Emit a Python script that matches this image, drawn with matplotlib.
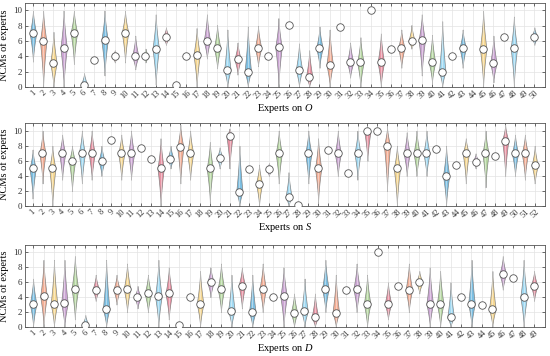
import matplotlib
matplotlib.use("Agg")
import matplotlib.pyplot as plt
import numpy as np

plt.rcParams["font.family"] = ["Liberation Serif", "DejaVu Serif"]
plt.rcParams["mathtext.fontset"] = "custom"
plt.rcParams["mathtext.it"] = "Liberation Serif:italic"
plt.rcParams["mathtext.rm"] = "Liberation Serif"

# ---- data (median NCM, lower end, upper end) per expert; None = no data ----
o_med = [7, 6, 3.1, 5.1, 7.1, 0.3, 3.5, 6.1, 4, 7.1, 4, 4, 5, 6.5, 0.25, 4,
         4.2, 6, 5.1, 2.2, 3.6, 2, 5.1, 4, 5.2, 8.1, 2.2, 1.3, 5.1, 2.9,
         7.8, 3.2, 3.2, 10, 3.2, 5, 5.1, 6, 6.1, 3.2, 2, 4, 5.1, None,
         5, 3.1, 6.5, 5.1, None, 6.5]
o_lo = [3.3, 0, 0, 0, 3, 0, 3.5, 1.5, 3.2, 3.2, 2.3, 3.2, 0.3, 5.5, 0.25, 4,
        0, 3.7, 2.4, 0, 1.6, 0, 2.7, 4, 0, 8.1, 0, 0, 2.5, 0,
        7.8, 1.2, 0, 10, 0, 5, 2.5, 5, 1.5, 0.5, 0, 4, 2.5, None,
        0, 0.6, 6.5, 0, None, 5.5]
o_hi = [10, 10, 7.2, 10, 10, 1.8, 3.5, 10, 4.8, 10, 6.7, 5, 9.5, 7.8, 0.25, 4,
        7.7, 9.5, 8.1, 7.5, 5.8, 7.9, 8, 4, 9, 8.1, 5.7, 4.8, 7.9, 7.5,
        7.8, 5.8, 6.5, 10, 7, 5, 7.5, 8.1, 9.5, 6.8, 8.6, 4, 7.5, None,
        10, 6.7, 6.5, 9.2, None, 7.8]

s_med = [5, 7, 5, 7, 6, 7, 7, 6, 8.8, 7, 7, 7.7, 6.3, 5, 6.3, 7.8,
         7, None, 5, 6.4, 9.3, 1.9, 4.9, 3, 4.9, 7, 1.2, 0.2, 7, 5,
         7.5, 7, 4.4, 7, 9.9, 9.9, 8, 5, 7, 7, 7, 7.6, 4.05, 5.4,
         7, 5.9, 7, 6.65, 8.7, 7, 7, 5.4]
s_lo = [1, 3, 0, 3.5, 2, 3, 3.5, 4, 8.8, 3.5, 3.5, 7.7, 6.3, 0, 5, 3,
        3.5, None, 0.5, 5, 5, 0, 4.9, 0, 4, 3, 0, 0.2, 3, 0.5,
        7.5, 4, 4.4, 3.5, 6, 9.9, 2, 0, 4, 4, 4, 7.6, 0, 5.4,
        3, 5, 2.5, 6.65, 4, 4, 3.5, 3]
s_hi = [7.5, 10, 8, 9.5, 8, 10, 10, 8, 8.8, 9.5, 10, 7.7, 6.3, 9, 8, 10.8,
        10, None, 8.5, 7.8, 10.3, 8, 4.9, 5.5, 5.7, 10, 4.5, 0.2, 10, 9,
        7.5, 10, 4.4, 10, 10.5, 9.9, 10.5, 8, 9.8, 10, 10, 7.6, 8, 5.4,
        9, 7, 10, 6.65, 10.8, 9.5, 9.5, 8]

d_med = [3.1, 4.1, 3.1, 3.15, 5.1, 0.3, 5, 2.4, 5, 5.1, 4, 4.5, 4.1, 4.5, 0.2, 4,
         3.1, 6, 5.1, 2.2, 5.55, 2, 5.1, 4, 4.1, 1.9, 2.1, 1.3, 5.1, 1.9,
         5, 5.1, 3.1, 10, 3.1, 5.5, 5, 6, 3.1, 3.1, 1.3, 4, 3.1, 3,
         2.4, 7.1, 6.5, 4, 5.55]
d_lo = [0, 0, 0, 0, 1, 0, 3.5, 0, 3, 2, 2.5, 2, 0, 1, 0.2, 4,
        0, 4, 2, 0, 2.5, 0, 2, 4, 0, 0, 0, 0, 2, 0,
        5, 2, 0, 10, 1, 5.5, 2, 4.5, 0, 0, 0, 4, 0, 3,
        0, 5, 6.5, 0, 3.5]
d_hi = [6.5, 9, 9, 9, 9.5, 1.6, 7, 9, 7, 8.5, 5.5, 7, 9, 8, 0.2, 4,
        7.5, 8, 8.5, 7, 8, 7, 8.5, 4, 8, 4.5, 6.5, 4.5, 9, 7,
        5, 8.5, 7, 10, 6, 5.5, 8.5, 7.5, 8, 7.5, 6, 4, 9, 3,
        7.5, 9.5, 6.5, 9, 7.5]

panels = [
    (o_med, o_lo, o_hi, "Experts on $O$"),
    (s_med, s_lo, s_hi, "Experts on $S$"),
    (d_med, d_lo, d_hi, "Experts on $D$"),
]

palette = ["#6FB8DF", "#F2A68B", "#F6D487", "#C79DD0", "#AFD499", "#98D6F2", "#E6879A"]
edge_col = "#7a7a7a"
half_w = 0.32

# axes rectangles (left, bottom, width, height) in figure fraction
rects = [
    (0.045, 0.756, 0.946, 0.236),
    (0.045, 0.421, 0.946, 0.233),
    (0.045, 0.0815, 0.946, 0.2305),
]


def draw_violin(ax, x, med, lo, hi, color):
    ys = np.linspace(lo, hi, 200)
    w = np.zeros_like(ys)
    up = ys >= med
    if hi > med:
        t = (ys[up] - med) / (hi - med)
        w[up] = half_w * (1 - t) ** 1.5
    else:
        w[up] = half_w
    dn = ~up
    if med > lo:
        t = (med - ys[dn]) / (med - lo)
        w[dn] = half_w * (1 - t) ** 1.5
    ax.fill_betweenx(ys, x - w, x + w, facecolor=color, alpha=0.9,
                     edgecolor=edge_col, linewidth=0.5, zorder=2)
    ax.plot([x, x], [lo, hi], color="white", lw=0.5, alpha=0.6, zorder=3)


fig = plt.figure(figsize=(5.5, 3.56), dpi=100)

for (med, lo, hi, xlab), rect in zip(panels, rects):
    ax = fig.add_axes(rect)
    n = len(med)
    xs = np.arange(1, n + 1)
    for i, x in enumerate(xs):
        if med[i] is None:
            continue
        col = palette[i % len(palette)]
        if hi[i] > lo[i]:
            draw_violin(ax, x, med[i], lo[i], hi[i], col)
        ax.plot(x, med[i], "o", ms=5.4, mfc="white", mec="#555555", mew=0.6, zorder=4)

    ax.set_xlim(0.2, n + 1.05)
    ax.set_ylim(0, 11)
    ax.set_xticks(xs)
    ax.set_xticklabels([str(v) for v in xs], rotation=45, fontsize=6)
    ax.set_yticks([0, 2, 4, 6, 8, 10])
    ax.tick_params(axis="y", labelsize=6.5, pad=2)
    ax.tick_params(axis="x", pad=1.5)
    ax.tick_params(direction="in", length=2.5, width=0.5, colors="#333333",
                   top=True, right=True)
    ax.grid(True, color="#e3e3e3", linewidth=0.5, zorder=0)
    ax.set_axisbelow(True)
    for sp in ax.spines.values():
        sp.set_color("#555555")
        sp.set_linewidth(0.6)
    ax.set_xlabel(xlab, fontsize=7.5, labelpad=1)
    ax.set_ylabel("NCMs of experts", fontsize=7.5, labelpad=3)

fig.savefig("out.png", dpi=100)
